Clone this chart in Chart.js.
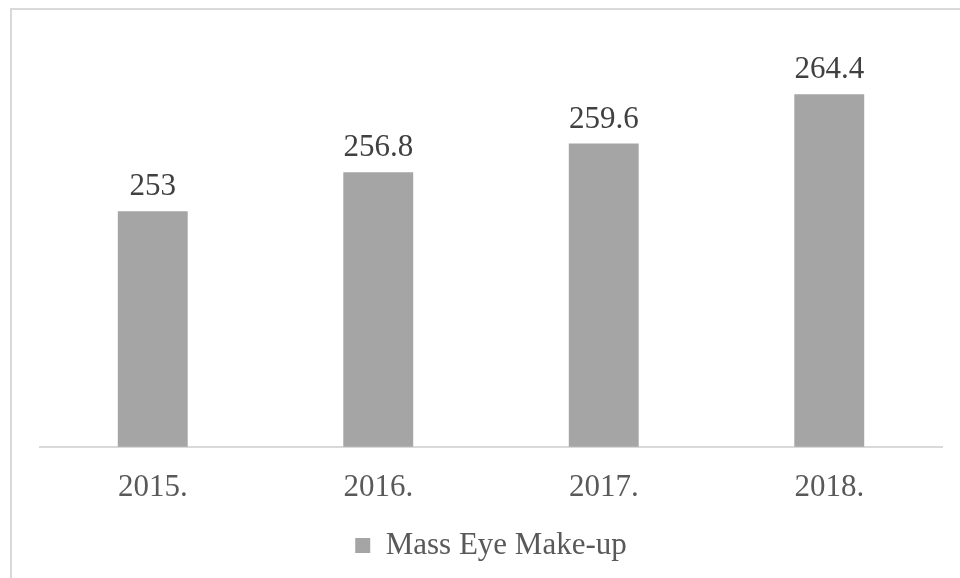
<!DOCTYPE html>
<html>
<head>
<meta charset="utf-8">
<script src="https://cdn.jsdelivr.net/npm/chart.js@4.4.1/dist/chart.umd.min.js"></script>
<style>
  html, body { margin: 0; padding: 0; background: #fff; }
  body { width: 960px; height: 578px; overflow: hidden; position: relative; }
  #frame {
    position: absolute; left: 10px; top: 8px; width: 980px; height: 600px;
    border: 2px solid #d9d9d9; box-sizing: border-box;
  }
  #wrap { position: absolute; left: 0; top: 0; width: 960px; height: 578px; }
</style>
</head>
<body>
<div id="frame"></div>
<div id="wrap"><canvas id="chart"></canvas></div>
<script>
  // Mass eye make-up sales by year
  const years = ["2015.", "2016.", "2017.", "2018."];
  const massEyeMakeup = [253, 256.8, 259.6, 264.4];
  const seriesName = "Mass Eye Make-up";

  const FONT = "'Liberation Serif', 'Times New Roman', serif";
  const BAR = "#a5a5a5";

  // value labels above each bar
  const valueLabels = {
    id: "valueLabels",
    afterDatasetsDraw(chart) {
      const { ctx } = chart;
      const meta = chart.getDatasetMeta(0);
      ctx.save();
      ctx.font = "31px " + FONT;
      ctx.fillStyle = "#404040";
      ctx.textAlign = "center";
      ctx.textBaseline = "alphabetic";
      meta.data.forEach((bar, i) => {
        ctx.fillText(String(massEyeMakeup[i]), bar.x, bar.y - 16);
      });
      ctx.restore();
    },
  };

  new Chart(document.getElementById("chart"), {
    type: "bar",
    data: {
      labels: years,
      datasets: [{
        label: seriesName,
        data: massEyeMakeup,
        backgroundColor: BAR,
        borderWidth: 0,
        barPercentage: 0.31,
        categoryPercentage: 1,
      }],
    },
    options: {
      responsive: true, maintainAspectRatio: false, animation: false,
      layout: { padding: { left: 40, right: 18, top: 37, bottom: 7 } },
      plugins: {
        tooltip: { enabled: false },
        legend: {
          position: "bottom",
          labels: {
            color: "#595959", font: { family: FONT, size: 31 },
            boxWidth: 15, boxHeight: 15, padding: 10,
          },
        },
      },
      scales: {
        x: {
          grid: { display: false },
          border: { display: true, color: "#d9d9d9", width: 2 },
          ticks: { color: "#595959", font: { family: FONT, size: 31 }, padding: 14 },
        },
        y: {
          display: false,
          min: 230, max: 270,
        },
      },
    },
    plugins: [valueLabels],
  });
</script>
</body>
</html>
